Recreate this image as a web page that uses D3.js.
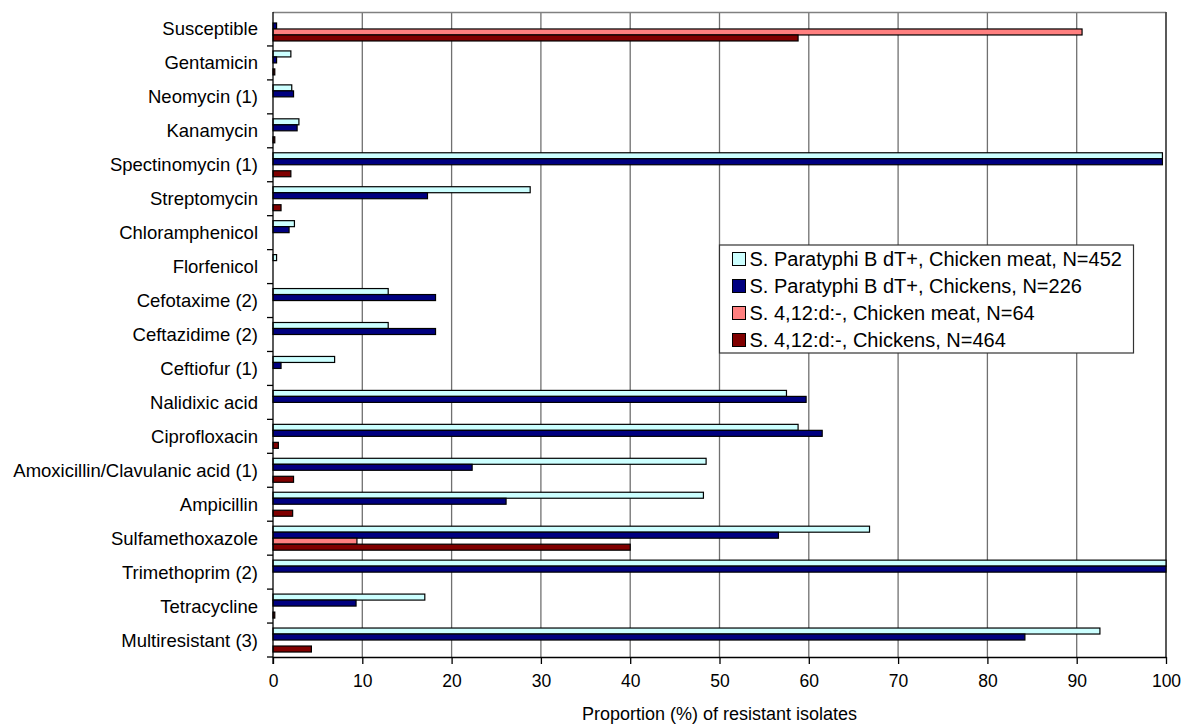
<!DOCTYPE html>
<html>
<head>
<meta charset="utf-8">
<script src="https://cdn.jsdelivr.net/npm/d3@7"></script>
<style>
    body { margin: 0; background: #fff; }
    text { font-family: "Liberation Sans", Arial, sans-serif; fill: #000; }
</style>
</head>
<body>
<div id="bar-chart"></div>
<script>
// categories, top to bottom
var antimicrobials = ["Susceptible", "Gentamicin", "Neomycin (1)", "Kanamycin", "Spectinomycin (1)",
    "Streptomycin", "Chloramphenicol", "Florfenicol", "Cefotaxime (2)", "Ceftazidime (2)",
    "Ceftiofur (1)", "Nalidixic acid", "Ciprofloxacin", "Amoxicillin/Clavulanic acid (1)",
    "Ampicillin", "Sulfamethoxazole", "Trimethoprim (2)", "Tetracycline", "Multiresistant (3)"];

var seriesNames = ["S. Paratyphi B dT+, Chicken meat, N=452", "S. Paratyphi B dT+, Chickens, N=226",
    "S. 4,12:d:-, Chicken meat, N=64", "S. 4,12:d:-, Chickens, N=464"];
var seriesColors = ["#ccffff", "#000080", "#ff8080", "#800000"];

// proportion (%) of resistant isolates, one array per series
var paratyphiMeat = [0, 2.0, 2.1, 2.9, 99.6, 28.8, 2.4, 0.4, 12.9, 12.9, 6.9, 57.5, 58.8, 48.5, 48.2, 66.8, 100, 17.0, 92.6];
var paratyphiChickens = [0.4, 0.4, 2.3, 2.7, 99.6, 17.3, 1.8, 0, 18.2, 18.2, 0.9, 59.7, 61.5, 22.3, 26.1, 56.6, 100, 9.3, 84.2];
var s412Meat = [90.6, 0, 0, 0, 0, 0, 0, 0, 0, 0, 0, 0, 0, 0, 0, 9.4, 0, 0, 0];
var s412Chickens = [58.8, 0.2, 0, 0.2, 2.0, 0.9, 0, 0, 0, 0, 0, 0, 0.6, 2.3, 2.2, 40.0, 0, 0.2, 4.3];

var xTicks = [0, 10, 20, 30, 40, 50, 60, 70, 80, 90, 100];
var xTitle = "Proportion (%) of resistant isolates";

var allSeries = [paratyphiMeat, paratyphiChickens, s412Meat, s412Chickens];

var margin = {top: 12, right: 17, bottom: 67, left: 273};
var width = 1183 - margin.left - margin.right;
var height = 724 - margin.top - margin.bottom;

var svg = d3.select("#bar-chart").append("svg")
    .attr("width", 1183)
    .attr("height", 724)
    .append("g")
    .attr("transform", `translate(${margin.left},${margin.top})`);

var x = d3.scaleLinear().domain([0, 100]).range([0, width]);
var y0 = d3.scaleBand().domain(antimicrobials).range([0, height]);
var y1 = d3.scaleBand().domain(d3.range(seriesNames.length))
    .range([0, y0.bandwidth()]).paddingOuter(0.83);

// vertical gridlines
svg.append("g")
    .selectAll("line")
    .data(xTicks.slice(1))
    .enter()
    .append("line")
    .attr("x1", d => x(d)).attr("x2", d => x(d))
    .attr("y1", 0).attr("y2", height)
    .attr("stroke", "#707070")
    .attr("stroke-width", 1.3);

// plot frame top and right
svg.append("line")
    .attr("x1", 0).attr("x2", width).attr("y1", 0.5).attr("y2", 0.5)
    .attr("stroke", "#808080").attr("stroke-width", 1.3);
svg.append("line")
    .attr("x1", width).attr("x2", width).attr("y1", 0).attr("y2", height)
    .attr("stroke", "#333").attr("stroke-width", 1.3);

// bars
var groups = svg.selectAll(".category")
    .data(antimicrobials)
    .enter()
    .append("g")
    .attr("class", "category")
    .attr("transform", d => `translate(0,${y0(d)})`);

groups.selectAll("rect")
    .data((d, i) => allSeries.map((s, k) => ({k: k, v: s[i]})).filter(b => b.v > 0))
    .enter()
    .append("rect")
    .attr("x", x(0))
    .attr("y", d => y1(d.k))
    .attr("width", d => x(d.v) - x(0))
    .attr("height", y1.bandwidth())
    .attr("fill", d => seriesColors[d.k])
    .attr("stroke", "#000")
    .attr("stroke-width", 1.2);

// x axis
var xAxis = svg.append("g")
    .attr("transform", `translate(0,${height})`)
    .call(d3.axisBottom(x).tickValues(xTicks).tickSize(7).tickSizeOuter(0).tickPadding(11));
xAxis.select(".domain").attr("stroke", "#000").attr("stroke-width", 1.3);
xAxis.selectAll(".tick line").attr("stroke", "#000").attr("stroke-width", 1.3);
xAxis.selectAll("text").style("font-size", "17.5px").attr("font-family", null);

// y axis line, ticks at category boundaries, labels at centres
svg.append("line")
    .attr("x1", 0).attr("x2", 0).attr("y1", 0).attr("y2", height + 7)
    .attr("stroke", "#000").attr("stroke-width", 1.3);

svg.append("g")
    .selectAll("line")
    .data(antimicrobials.slice(1).map(d => y0(d)).concat([height]))
    .enter()
    .append("line")
    .attr("x1", -6).attr("x2", 0)
    .attr("y1", d => d).attr("y2", d => d)
    .attr("stroke", "#000").attr("stroke-width", 1.3);

svg.append("g")
    .selectAll("text")
    .data(antimicrobials)
    .enter()
    .append("text")
    .attr("x", -15)
    .attr("y", d => y0(d) + y0.bandwidth() / 2)
    .attr("dy", "0.35em")
    .attr("text-anchor", "end")
    .style("font-size", "18.5px")
    .text(d => d);

// axis title
svg.append("text")
    .attr("x", width / 2)
    .attr("y", height + 57)
    .attr("dy", "0.35em")
    .attr("text-anchor", "middle")
    .style("font-size", "18px")
    .text(xTitle);

// legend
var legend = svg.append("g")
    .attr("transform", `translate(${x(50)},${245 - margin.top})`);

legend.append("rect")
    .attr("width", 414).attr("height", 108)
    .attr("fill", "#fff")
    .attr("stroke", "#333").attr("stroke-width", 1.2);

var items = legend.selectAll(".legend-item")
    .data(seriesNames)
    .enter()
    .append("g")
    .attr("class", "legend-item")
    .attr("transform", (d, i) => `translate(13,${14 + i * 27})`);

items.append("rect")
    .attr("x", 0).attr("y", -6.5)
    .attr("width", 13).attr("height", 13)
    .attr("fill", (d, i) => seriesColors[i])
    .attr("stroke", "#000").attr("stroke-width", 1);

items.append("text")
    .attr("x", 17)
    .attr("dy", "0.35em")
    .style("font-size", "20px")
    .text(d => d);
</script>
</body>
</html>
